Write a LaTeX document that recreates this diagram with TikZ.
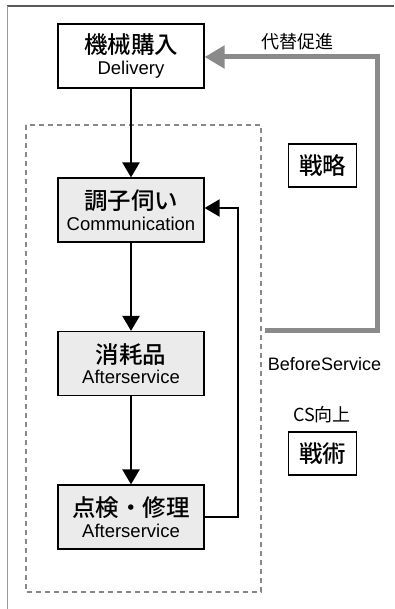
\documentclass[tikz,border=0pt]{standalone}
\usepackage{fontspec}
\setmainfont{Liberation Sans}
\newfontfamily\jp{Noto Sans CJK JP}[BoldFont={Noto Sans CJK JP Medium}]
\usetikzlibrary{arrows.meta}
\definecolor{boxfill}{HTML}{EBEBEB}
\definecolor{dashgray}{HTML}{888888}
\definecolor{arrgray}{HTML}{8A8A8A}
\tikzset{
  flowbox/.style={draw=black, line width=1.2pt, minimum width=146pt, minimum height=64pt, inner sep=0pt, align=center},
  grayfill/.style={fill=boxfill},
  tagbox/.style={draw=black, line width=1.2pt, minimum width=68pt, minimum height=43pt, inner sep=0pt, font=\jp\bfseries\fontsize{23.5}{26}\selectfont},
  lbl/.style={inner sep=0pt, font=\fontsize{18}{20}\selectfont},
  blackarrow/.style={line width=2.4pt, -{Triangle[width=17pt,length=15pt]}},
  grayarrow/.style={draw=arrgray, line width=5pt, -{Triangle[width=22pt,length=20pt]}},
}
\newcommand{\ttl}[2]{{\jp\bfseries\fontsize{23.5}{26}\selectfont #1}\\[4pt]{\fontsize{18.5}{20}\selectfont #2}}
\begin{document}
\begin{tikzpicture}[x=1pt,y=-1pt]
\useasboundingbox (0,0) rectangle (394,609);
% frame
\draw[draw=black!65, line width=1.3pt] (7,6) -- (394,6);
\draw[draw=black!40, line width=1.3pt] (7.5,6) -- (7.5,609);
% dashed group
\draw[draw=dashgray, line width=2pt, dash pattern=on 5pt off 4pt] (26,125) rectangle (261,592);
% boxes
\node[flowbox] (b1) at (131,56) {\ttl{機械購入}{Delivery}};
\node[flowbox, grayfill] (b2) at (131,210) {\ttl{調子伺い}{Communication}};
\node[flowbox, grayfill] (b3) at (131,363.5) {\ttl{消耗品}{Afterservice}};
\node[flowbox, grayfill] (b4) at (131,517) {\ttl{点検・修理}{Afterservice}};
\node[tagbox] (s1) at (322.5,165.5) {戦略};
\node[tagbox] (s2) at (322.5,453.5) {戦術};
% labels
\node[lbl, font=\jp\fontsize{18}{20}\selectfont] (l1) at (297,42) {代替促進};
\node[lbl] (l2) at (324.5,364) {BeforeService};
\node[lbl, font=\jp\fontsize{17.5}{20}\selectfont] (l3) at (322,415) {\fontsize{18}{20}\selectfont CS向上};
% coordinates
\coordinate (g0) at (265,330);
\coordinate (g1) at (377,330);
\coordinate (g2) at (377,57);
\coordinate (f1) at (238,517);
\coordinate (f2) at (238,208);
% connectors
\draw[blackarrow] (b1.south) -- (b2.north);
\draw[blackarrow] (b2.south) -- (b3.north);
\draw[blackarrow] (b3.south) -- (b4.north);
\draw[blackarrow, line width=2.2pt] (b4.east) -- (f1) -- (f2) -- (b2.east |- f2);
\draw[grayarrow] (g0) -- (g1) -- (g2) -- (b1.east |- g2);
\end{tikzpicture}
\end{document}
